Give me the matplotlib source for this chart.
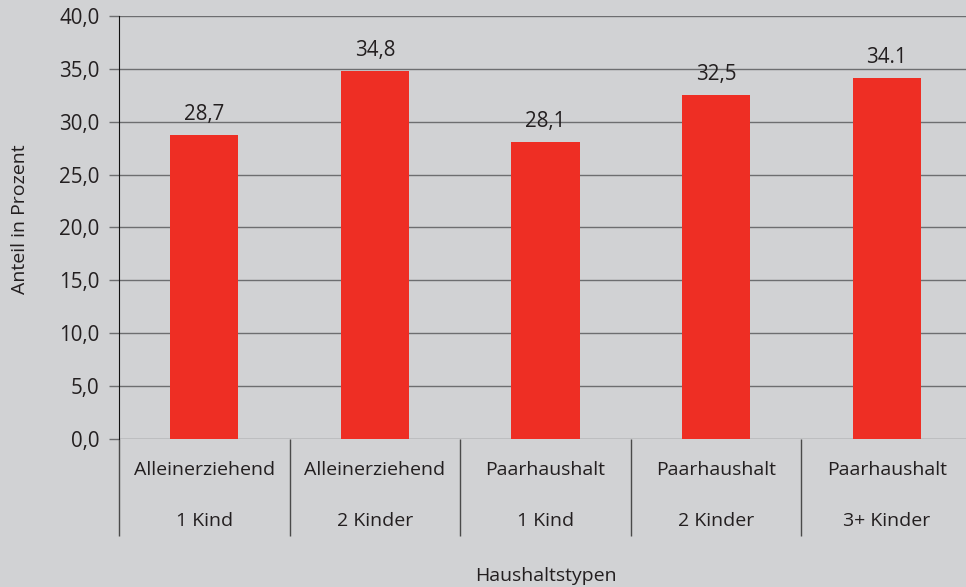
import matplotlib.pyplot as plt
from matplotlib.transforms import blended_transform_factory

plt.rcParams['font.family'] = ['Open Sans', 'DejaVu Sans']

typ = ['Alleinerziehend', 'Alleinerziehend', 'Paarhaushalt', 'Paarhaushalt', 'Paarhaushalt']
kinder = ['1 Kind', '2 Kinder', '1 Kind', '2 Kinder', '3+ Kinder']
anteil = [28.7, 34.8, 28.1, 32.5, 34.1]
beschriftung = ['28,7', '34,8', '28,1', '32,5', '34.1']
y_ticks = [0, 5, 10, 15, 20, 25, 30, 35, 40]

bg = '#d1d2d4'
red = '#ee2e24'
txt = '#231f20'
grid = '#6d6e70'
fs_num = 14.8
fs_txt = 14

fig = plt.figure(figsize=(9.66, 5.87), dpi=100, facecolor=bg)
ax = fig.add_axes([119 / 966, 1 - 439 / 587, 853 / 966, 423 / 587])
ax.set_facecolor(bg)

pos = [i + 0.5 for i in range(len(anteil))]
ax.bar(pos, anteil, width=0.4, color=red, zorder=3)

for x, v, s in zip(pos, anteil, beschriftung):
    ax.annotate(s, (x, v), xytext=(0, 11), textcoords='offset points',
                ha='center', va='baseline', fontsize=fs_num, color=txt)

ax.set_xlim(0, 5)
ax.set_ylim(0, 40)
ax.set_yticks(y_ticks)
ax.set_yticklabels([f'{t:.1f}'.replace('.', ',') for t in y_ticks])
ax.tick_params(axis='y', length=7, width=1, color=grid, labelsize=fs_num,
               labelcolor=txt, pad=7)
ax.grid(axis='y', color=grid, linewidth=1, zorder=1)

# group separators as long ticks
ax.set_xticks(range(6))
ax.set_xticklabels([])
ax.tick_params(axis='x', length=70, width=1, color='#4a4a4a')

for s in ['top', 'right', 'bottom']:
    ax.spines[s].set_visible(False)
ax.spines['left'].set_color('#111111')
ax.spines['left'].set_zorder(4)

tr = blended_transform_factory(ax.transData, ax.transAxes)
for x, t, k in zip(pos, typ, kinder):
    ax.text(x, -0.073, t, transform=tr, ha='center', va='center',
            fontsize=fs_txt, color=txt)
    ax.text(x, -0.194, k, transform=tr, ha='center', va='center',
            fontsize=fs_txt, color=txt)

fig.text(20 / 966, 1 - 219 / 587, 'Anteil in Prozent', rotation=90,
         ha='center', va='center', fontsize=fs_txt, color=txt)
fig.text(546 / 966, 1 - 576 / 587, 'Haushaltstypen', ha='center',
         va='center', fontsize=fs_txt, color=txt)

fig.savefig('out.png', dpi=100, facecolor=bg)
